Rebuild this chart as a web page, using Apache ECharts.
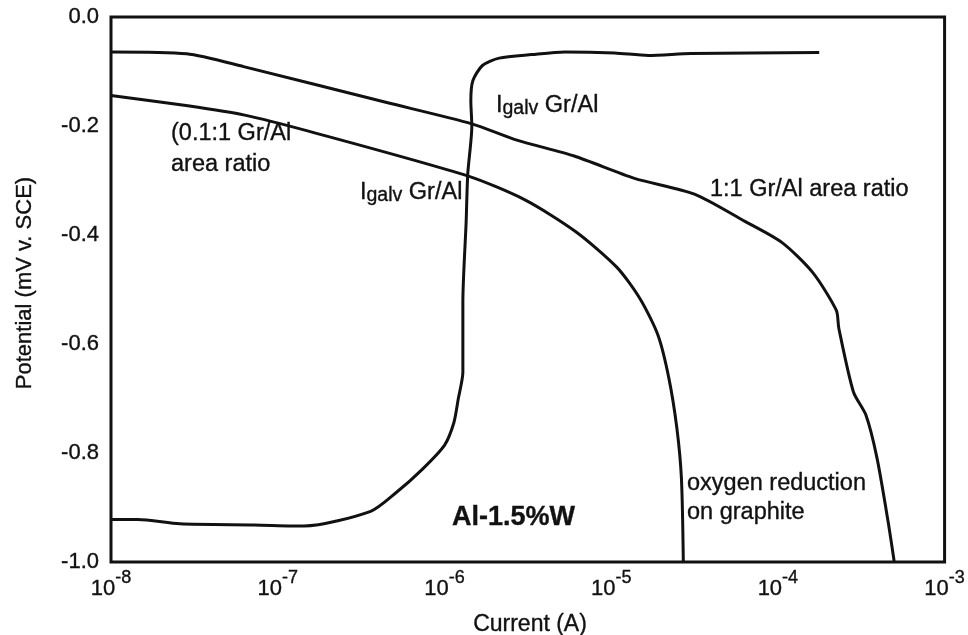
<!DOCTYPE html>
<html>
<head>
<meta charset="utf-8">
<script src="https://cdn.jsdelivr.net/npm/echarts@6/dist/echarts.min.js"></script>
<style>
html,body{margin:0;padding:0;background:#fff;}
#chart{width:968px;height:635px;}
</style>
</head>
<body>
<div id="chart"></div>
<script>
// Upper cathodic curve (1:1 Gr/Al area ratio)
const currentA = [1.0e-8, 2.84e-8, 6.24e-8, 4.51e-7, 1.46e-6, 2.72e-6, 6.0e-6, 1.38e-5, 3.16e-5, 6.34e-5, 1.06e-4, 1.62e-4, 2.24e-4, 2.32e-4, 2.84e-4, 3.37e-4, 3.93e-4, 4.59e-4, 4.99e-4];
const potentialA = [-0.064, -0.0675, -0.091, -0.157, -0.196, -0.226, -0.255, -0.296, -0.325, -0.375, -0.414, -0.469, -0.538, -0.571, -0.688, -0.730, -0.809, -0.927, -1.0];

// Lower cathodic curve (0.1:1 Gr/Al area ratio)
const currentB = [1.0e-8, 2.89e-8, 6.34e-8, 1.51e-7, 1.39e-6, 3.06e-6, 6.14e-6, 1.08e-5, 1.49e-5, 1.91e-5, 2.22e-5, 2.48e-5, 2.64e-5, 2.71e-5];
const potentialB = [-0.144, -0.163, -0.180, -0.209, -0.292, -0.336, -0.394, -0.459, -0.517, -0.584, -0.663, -0.755, -0.847, -1.0];

// Anodic curve of Al-1.5%W
const currentC = [1.0e-8, 1.45e-8, 2.59e-8, 7.24e-8, 1.44e-7, 3.61e-7, 5.12e-7, 7.36e-7, 1.0e-6, 1.14e-6, 1.21e-6, 1.29e-6, 1.29e-6, 1.35e-6, 1.38e-6, 1.46e-6, 1.44e-6, 1.48e-6, 1.69e-6, 2.13e-6, 3.34e-6, 5.26e-6, 1.05e-5, 1.67e-5, 3.01e-5, 1.77e-4];
const potentialC = [-0.922, -0.922, -0.930, -0.932, -0.934, -0.907, -0.873, -0.830, -0.786, -0.744, -0.701, -0.652, -0.523, -0.375, -0.288, -0.200, -0.154, -0.117, -0.089, -0.0755, -0.069, -0.064, -0.066, -0.0705, -0.067, -0.065];

// Axis ticks
const xMin = 1e-8, xMax = 1e-3;
const yMin = -1.0, yMax = 0.0, yStep = 0.2;

const FONT = '"Liberation Sans", Arial, Helvetica, sans-serif';
const INK = '#111';
const THICK = {textBorderColor:INK, textBorderWidth:0.35};

function pairs(xs, ys){ return xs.map((x,i)=>[x, ys[i]]); }

const chart = echarts.init(document.getElementById('chart'), null, {renderer:'canvas'});

const lineStyle = {color:INK, width:3};
function series(name, xs, ys){
  return {
    name, type:'line', data: pairs(xs, ys), showSymbol:false, symbol:'none',
    smooth:0.25, lineStyle, animation:false
  };
}

const galvRich = {
  i:{fontSize:23.5, fontFamily:FONT, fill:INK, stroke:INK, lineWidth:0.35, lineHeight:25, verticalAlign:'top'},
  g:{fontSize:19.5, fontFamily:FONT, fill:INK, stroke:INK, lineWidth:0.35, lineHeight:20, verticalAlign:'bottom'},
  t:{fontSize:23.5, fontFamily:FONT, fill:INK, stroke:INK, lineWidth:0.35, lineHeight:25, verticalAlign:'top'}
};

function txt(x, y, text, size, extra){
  return {
    type:'text', x, y, silent:true,
    style: Object.assign({text, fontSize:size, fontFamily:FONT, fill:INK, stroke:INK, lineWidth:0.35, verticalAlign:'middle', align:'left'}, extra||{})
  };
}

chart.setOption({
  backgroundColor:'#fff',
  animation:false,
  grid:{left:111, right:13, top:17, bottom:73, show:true, borderColor:INK, borderWidth:3, backgroundColor:'transparent'},
  xAxis:{
    type:'log', logBase:10, min:xMin, max:xMax,
    axisLine:{show:false}, axisTick:{show:false}, splitLine:{show:false}, minorTick:{show:false},
    axisLabel:{
      show:true, margin:7, showMinLabel:true, showMaxLabel:true,
      formatter:function(v){ const e = Math.round(Math.log10(v)); return '{b|10}{s|' + e + '}'; },
      rich:{
        b:Object.assign({fontSize:22, fontFamily:FONT, color:INK, lineHeight:31, verticalAlign:'bottom'}, THICK),
        s:Object.assign({fontSize:18, fontFamily:FONT, color:INK, lineHeight:19, verticalAlign:'top'}, THICK)
      }
    }
  },
  yAxis:{
    type:'value', min:yMin, max:yMax, interval:yStep,
    axisLine:{show:false}, axisTick:{show:false}, splitLine:{show:false},
    axisLabel:Object.assign({
      show:true, margin:12, fontSize:22, fontFamily:FONT, color:INK,
      formatter:function(v){ return (Math.abs(v) < 1e-9 ? 0 : v).toFixed(1); }
    }, THICK)
  },
  series:[
    series('1:1 Gr/Al area ratio', currentA, potentialA),
    series('0.1:1 Gr/Al area ratio', currentB, potentialB),
    series('Al-1.5%W', currentC, potentialC)
  ],
  graphic:[
    {type:'text', x:25, y:283, rotation:Math.PI/2, silent:true,
     style:{text:'Potential (mV v. SCE)', fontSize:22, fontFamily:FONT, fill:INK, stroke:INK, lineWidth:0.35, align:'center', verticalAlign:'middle'}},
    txt(530, 625, 'Current (A)', 23, {align:'center'}),
    txt(171, 134, '(0.1:1 Gr/Al', 23.5),
    txt(171, 165, 'area ratio', 23.5),
    {type:'text', x:360, y:181, silent:true,
     style:{text:'{i|I}{g|galv}{t| Gr/Al}', rich:galvRich, fontFamily:FONT, fill:INK, align:'left', verticalAlign:'top'}},
    {type:'text', x:496, y:94, silent:true,
     style:{text:'{i|I}{g|galv}{t| Gr/Al}', rich:galvRich, fontFamily:FONT, fill:INK, align:'left', verticalAlign:'top'}},
    txt(710, 190, '1:1 Gr/Al area ratio', 23.5),
    txt(687, 484, 'oxygen reduction', 23.5),
    txt(687, 513, 'on graphite', 23.5),
    txt(452, 518, 'Al-1.5%W', 27, {fontWeight:'bold'})
  ]
});
</script>
</body>
</html>
